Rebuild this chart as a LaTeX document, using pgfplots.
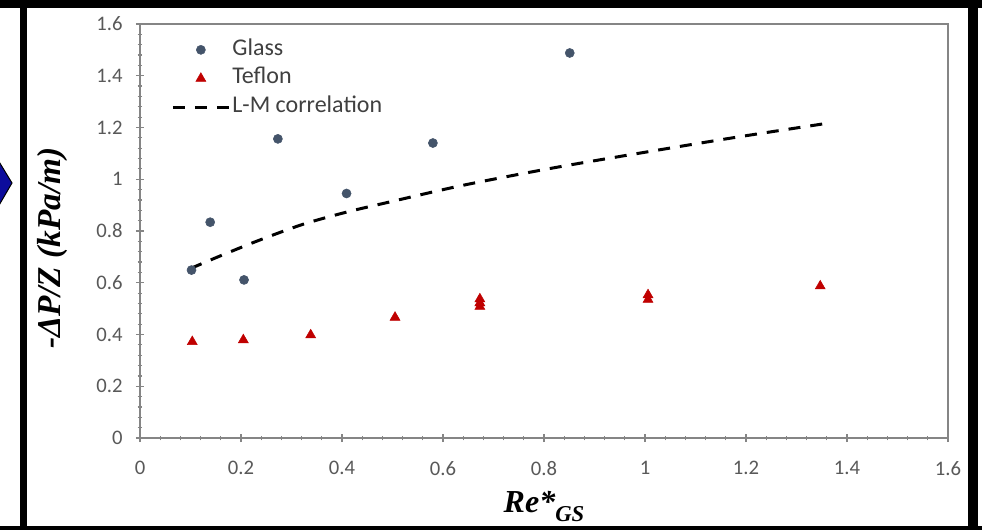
\documentclass[border=0pt]{standalone}
\usepackage{fontspec}
\setmainfont{Liberation Serif}
\newfontfamily\calibri{Carlito}
\usepackage{pgfplots}
\pgfplotsset{compat=1.18}
\definecolor{glass}{HTML}{44546A}
\definecolor{teflon}{HTML}{C00000}
\definecolor{axgray}{HTML}{858585}
\definecolor{ticktext}{HTML}{595959}
\definecolor{legtext}{HTML}{404040}
\definecolor{arrowblue}{HTML}{0C0C9C}
\begin{document}
\begin{tikzpicture}[x=0.75pt,y=0.75pt]
\useasboundingbox (0,0) rectangle (982,529);
\fill[white] (0,0) rectangle (982,529);
% decorative frame and arrow tip
\filldraw[fill=arrowblue,draw=black,line width=0.75pt] (-20,369) -- (-2,369) -- (12,346) -- (-2,322) -- (-20,322) -- cycle;
\draw[line width=5.25pt] (23.5,0) -- (23.5,529);
\draw[line width=7.5pt] (973,0) -- (973,529);
\draw[line width=6pt] (0,525) -- (982,525);
\draw[line width=3pt] (0,1) -- (982,1);
\begin{axis}[
  at={(105pt,68.25pt)}, anchor=south west,
  scale only axis, width=606pt, height=310.5pt,
  xmin=0, xmax=1.6, ymin=0, ymax=1.6,
  xtick={0,0.2,0.4,0.6,0.8,1,1.2,1.4,1.6},
  ytick={0,0.2,0.4,0.6,0.8,1,1.2,1.4,1.6},
  xticklabels={0,0.2,0.4,0.6,0.8,1,1.2,1.4,1.6},
  yticklabels={0,0.2,0.4,0.6,0.8,1,1.2,1.4,1.6},
  minor tick num=4,
  xtick pos=lower, ytick pos=left,
  tick align=center,
  major tick length=6pt, minor tick length=3.5pt,
  every tick/.style={axgray, line width=0.9pt},
  axis line style={axgray, line width=1.1pt},
  tick label style={font=\calibri\fontsize{15.5}{18}\selectfont, text=ticktext},
  xticklabel style={yshift=-11pt},
  yticklabel style={xshift=-6.5pt},
  xlabel={\bfseries\itshape Re*\raisebox{-0.3em}{\fontsize{17}{17}\selectfont GS}},
  xlabel style={at={(axis description cs:0.5,-0.1788)}, anchor=base, font=\fontsize{24}{26}\selectfont},
  ylabel={\bfseries\itshape -ΔP/Z (kPa/m)},
  ylabel style={at={(axis description cs:-0.108,0.459)}, anchor=center, font=\fontsize{25}{28}\selectfont},
  legend cell align=left,
  legend style={at={(axis description cs:0.0385,0.964)}, anchor=north west, draw=none, fill=none,
    inner sep=0pt, column sep=1.5pt, row sep=5.5pt,
    font=\calibri\fontsize{18}{21}\selectfont, text=legtext,
    nodes={inner sep=0pt, text height=12pt, text depth=4pt}},
  legend image code/.code={\draw[mark repeat=2,mark phase=2,#1] plot coordinates {(0pt,0pt) (21pt,0pt) (42pt,0pt)};},
]
\addplot[only marks, mark=*, mark size=3.4pt, glass, mark options={fill=glass, draw=glass}]
  coordinates {(0.102,0.649) (0.139,0.834) (0.206,0.611) (0.273,1.156) (0.409,0.945) (0.580,1.140) (0.851,1.488)};
\addlegendentry{Glass}
\addplot[only marks, mark=triangle*, mark size=4.3pt, teflon, mark options={fill=teflon, draw=teflon}]
  coordinates {(0.1035,0.372) (0.2046,0.379) (0.338,0.398) (0.505,0.466) (0.673,0.537) (0.673,0.522) (0.673,0.508) (1.006,0.553) (1.006,0.535) (1.347,0.587)};
\addlegendentry{Teflon}
\addplot[black, line width=2.25pt, dash pattern=on 9pt off 7.5pt, smooth]
  coordinates {(0.100,0.655) (0.158,0.703) (0.237,0.765) (0.323,0.826) (0.409,0.873) (0.494,0.912) (0.638,0.976) (0.816,1.043) (1.002,1.105) (1.186,1.164) (1.370,1.219)};
\addlegendentry{L-M correlation}
\end{axis}
\end{tikzpicture}
\end{document}
